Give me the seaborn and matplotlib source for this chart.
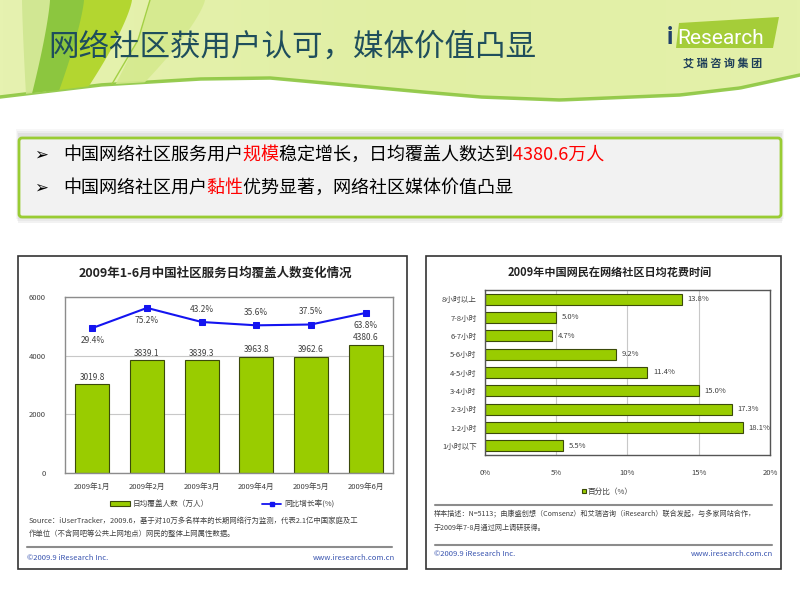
import numpy as np
import pandas as pd
import matplotlib
matplotlib.use('Agg')
import matplotlib.pyplot as plt
import seaborn as sns
from matplotlib.patches import Rectangle, Polygon, FancyBboxPatch
from matplotlib.colors import LinearSegmentedColormap
from matplotlib.transforms import Bbox, TransformedBbox

sns.set_theme(style='white')
plt.rcParams['font.family'] = ['Noto Sans CJK SC', 'DejaVu Sans']

# ---------------- data ----------------
months = ['2009年1月', '2009年2月', '2009年3月', '2009年4月', '2009年5月', '2009年6月']
users = [3019.8, 3839.1, 3839.3, 3963.8, 3962.6, 4380.6]
growth = [29.4, 75.2, 43.2, 35.6, 37.5, 63.8]
growth_label_below = [True, True, False, False, False, True]
left_yticks = [0, 2000, 4000, 6000]

time_cats = ['8小时以上', '7-8小时', '6-7小时', '5-6小时', '4-5小时',
             '3-4小时', '2-3小时', '1-2小时', '1小时以下']
time_pct = [13.8, 5.0, 4.7, 9.2, 11.4, 15.0, 17.3, 18.1, 5.5]
right_xticks = [0, 5, 10, 15, 20]

GREEN = '#99CC00'
EDGE = '#3B4A0A'
BLUE = '#1414F0'
TXT = '#404040'
TEAL = '#1F4E5C'

fig = plt.figure(figsize=(8, 6), dpi=100)
bg = fig.add_axes([0, 0, 1, 1], zorder=0)
bg.set_xlim(0, 800)
bg.set_ylim(600, 0)
bg.axis('off')

# ---------------- header ----------------
wx = np.linspace(0, 800, 300)
wy = np.interp(wx, [0, 100, 200, 270, 400, 480, 560, 680, 740, 800],
               [97, 85, 79, 78, 90, 97, 100, 95, 88, 75])
hdr = Polygon(np.vstack([np.column_stack([wx, wy]), [[800, 0], [0, 0]]]),
              closed=True, facecolor='none', edgecolor='none')
bg.add_patch(hdr)
grad = np.linspace(0, 1, 256).reshape(1, -1)
cm = LinearSegmentedColormap.from_list('h', ['#E6F2B0', '#E1EFA4', '#E4F1AA'])
im = bg.imshow(grad, extent=[0, 800, 110, 0], cmap=cm, aspect='auto', zorder=1)
im.set_clip_path(hdr)
bg.plot(wx, wy, color='#8CC63F', lw=2.5, alpha=0.9, zorder=2)


def swoosh(top0, top1, bot0, bot1, color, alpha=1.0):
    t = np.linspace(0, 1, 40)
    yb = np.interp((bot0 + bot1) / 2, wx, wy) + 2
    left = np.column_stack([top0 + (bot0 - top0) * t ** 1.3, yb * t])
    right = np.column_stack([top1 + (bot1 - top1) * t ** 1.3, yb * t])[::-1]
    p = Polygon(np.vstack([left, right]), closed=True,
                facecolor=color, edgecolor='none', alpha=alpha, zorder=2)
    bg.add_patch(p)
    p.set_clip_path(hdr)


swoosh(150, 205, 115, 142, '#D5EA8E', 0.9)
swoosh(22, 52, 26, 46, '#CFE690', 0.9)
swoosh(82, 132, 56, 86, '#B3D630', 1.0)
swoosh(50, 84, 32, 58, '#8CC63F', 1.0)
bg.plot([150, 138, 112], [0, 40, 84], color='#A3D044', lw=1.0, zorder=2)

bg.text(48, 47, '网络社区获用户认可，媒体价值凸显', fontsize=22, color=TEAL,
        va='center', ha='left', zorder=3)

# logo
bg.add_patch(Polygon([[679, 23], [779, 17], [773, 48], [676, 48]], closed=True,
                     facecolor='#A5CD39', edgecolor='none', zorder=3))
bg.text(667, 37, 'i', fontsize=17, color='#1F3F6A', fontweight='bold',
        family='Roboto', va='center', zorder=4)
bg.text(677, 38, 'Research', fontsize=15, color='white', family='Roboto',
        va='center', zorder=4)
bg.text(723, 63, '艾 瑞 咨 询 集 团', fontsize=8, color='#1F3F5A', fontweight='bold',
        ha='center', va='center', zorder=4)

# ---------------- bullet box ----------------
for i, a in enumerate([0.06, 0.08, 0.1]):
    bg.add_patch(Rectangle((16 + i, 129 + 2 * i), 768 - 2 * i, 90, facecolor='#808080',
                           alpha=a, edgecolor='none', zorder=2))
bg.add_patch(FancyBboxPatch((19, 138), 762, 79, boxstyle='round,pad=0,rounding_size=3',
                            facecolor='#F2F2F2', edgecolor='#99CC33', lw=2, zorder=3))

BSIZE = 13
EM = BSIZE * 100 / 72.0


def rich(x, y, parts):
    # draw the whole line once per colour, each clipped to its own segment
    full = ''.join(s for s, _ in parts)
    n = 0
    for k, (s, c) in enumerate(parts):
        x0 = x + n * EM - (50 if k == 0 else 0)
        n += len(s)
        x1 = x + n * EM if k < len(parts) - 1 else 800
        t = bg.text(x, y, full, color=c, fontsize=BSIZE, va='center', ha='left', zorder=4)
        t.set_clip_path(None)
        t.set_clip_on(True)
        t.set_clip_box(TransformedBbox(Bbox([[x0, y - 20], [x1, y + 20]]), bg.transData))


for yy in (155, 188):
    bg.text(34, yy, '➢', fontsize=12, family='DejaVu Sans', color='black',
            va='center', ha='left', zorder=4)
rich(63, 155, [('中国网络社区服务用户', 'black'), ('规模', '#FF0000'),
               ('稳定增长，日均覆盖人数达到', 'black'), ('4380.6万人', '#FF0000')])
rich(63, 188, [('中国网络社区用户', 'black'), ('黏性', '#FF0000'),
               ('优势显著，网络社区媒体价值凸显', 'black')])

# ---------------- chart boxes ----------------
bg.add_patch(Rectangle((18, 256), 389, 313, facecolor='white', edgecolor='#333333', lw=1.2, zorder=2))
bg.add_patch(Rectangle((426, 256), 355, 313, facecolor='white', edgecolor='#333333', lw=1.2, zorder=2))

# ---------------- left chart ----------------
bg.text(215, 273, '2009年1-6月中国社区服务日均覆盖人数变化情况', fontsize=9,
        fontweight='bold', color='#222222', ha='center', va='center', zorder=4)

axL = fig.add_axes([65 / 800, 1 - 473 / 600, 328 / 800, 176 / 600], zorder=3)
df = pd.DataFrame({'month': months, 'users': users})
sns.barplot(data=df, x='month', y='users', ax=axL, color=GREEN, edgecolor=EDGE,
            linewidth=0.8, width=0.62, saturation=1)
axL.set_xlim(-0.5, 5.5)
axL.set_ylim(0, 6000)
axL.set_yticks(left_yticks)
axL.set_yticklabels([str(v) for v in left_yticks])
axL.yaxis.grid(True, color='#C8C8C8', lw=0.8)
axL.set_axisbelow(True)
axL.set_xlabel('')
axL.set_ylabel('')
for s in axL.spines.values():
    s.set_color('#8C8C8C')
    s.set_linewidth(1.0)
axL.tick_params(axis='y', length=0, pad=14, labelsize=5.5, labelcolor=TXT)
axL.tick_params(axis='x', length=0, pad=7, labelsize=5.5, labelcolor=TXT)
for i, v in enumerate(users):
    axL.annotate(f'{v:.1f}', (i, v), xytext=(0, 2), textcoords='offset points',
                 ha='center', va='bottom', fontsize=6, color=TXT)

axLine = fig.add_axes([65 / 800, 1 - 473 / 600, 328 / 800, 176 / 600], zorder=4)
axLine.patch.set_alpha(0)
gdf = pd.DataFrame({'x': np.arange(len(growth)), 'g': growth})
sns.lineplot(data=gdf, x='x', y='g', ax=axLine, color=BLUE, marker='s',
             markersize=5, markeredgecolor=BLUE, linewidth=1.5, sort=False)
axLine.set_xlim(-0.5, 5.5)
axLine.set_ylim(-300, 100)
axLine.axis('off')
for i, (v, below) in enumerate(zip(growth, growth_label_below)):
    axLine.annotate(f'{v:.1f}%', (i, v), xytext=(0, -6 if below else 6),
                    textcoords='offset points', ha='center',
                    va='top' if below else 'bottom', fontsize=6, color=TXT)

# legend left
bg.add_patch(Rectangle((110, 501), 20, 4.5, facecolor=GREEN, edgecolor=EDGE, lw=0.8, zorder=4))
bg.text(133, 503.5, '日均覆盖人数（万人）', fontsize=5.5, color=TXT, va='center', zorder=4)
bg.plot([262, 281], [503.5, 503.5], color=BLUE, lw=1.3, zorder=4)
bg.plot([271.5], [503.5], marker='s', color=BLUE, markersize=3.5, zorder=5)
bg.text(284, 503.5, '同比增长率(%)', fontsize=5.5, color=TXT, va='center', zorder=4)

bg.text(29, 521, 'Source：iUserTracker，2009.6，基于对10万多名样本的长期网络行为监测，代表2.1亿中国家庭及工',
        fontsize=5.3, color=TXT, va='center', zorder=4)
bg.text(29, 534, '作单位（不含网吧等公共上网地点）网民的整体上网属性数据。',
        fontsize=5.3, color=TXT, va='center', zorder=4)
bg.plot([27, 392], [547, 547], color='#8C8C8C', lw=1.5, zorder=4)
bg.text(27, 558, '©2009.9 iResearch Inc.', fontsize=5.5, color='#3A55B0', va='center', zorder=4)
bg.text(395, 558, 'www.iresearch.com.cn', fontsize=5.5, color='#3A55B0', va='center',
        ha='right', zorder=4)

# ---------------- right chart ----------------
bg.text(610, 272, '2009年中国网民在网络社区日均花费时间', fontsize=8,
        fontweight='bold', color='#222222', ha='center', va='center', zorder=4)

axB = fig.add_axes([485 / 800, 1 - 455 / 600, 285 / 800, 165 / 600], zorder=3)
tdf = pd.DataFrame({'cat': time_cats, 'pct': time_pct})
sns.barplot(data=tdf, x='pct', y='cat', orient='h', ax=axB, color=GREEN,
            edgecolor=EDGE, linewidth=0.8, width=0.6, saturation=1)
axB.set_xlim(0, 20)
axB.set_ylim(len(time_cats) - 0.5, -0.5)
axB.set_xticks(right_xticks)
axB.set_xticklabels([f'{v}%' for v in right_xticks])
axB.xaxis.grid(True, color='#C8C8C8', lw=0.8)
axB.set_axisbelow(True)
axB.set_xlabel('')
axB.set_ylabel('')
for s in axB.spines.values():
    s.set_color('#555555')
    s.set_linewidth(1.0)
axB.tick_params(axis='y', length=0, pad=6, labelsize=5.5, labelcolor=TXT)
axB.tick_params(axis='x', length=0, pad=10, labelsize=5.5, labelcolor=TXT)
for i, v in enumerate(time_pct):
    axB.annotate(f'{v:.1f}%', (v, i), xytext=(4, 0), textcoords='offset points',
                 ha='left', va='center', fontsize=5.5, color=TXT)

bg.add_patch(Rectangle((582, 489), 4, 4, facecolor=GREEN, edgecolor=EDGE, lw=0.8, zorder=4))
bg.text(588, 491.5, '百分比（%）', fontsize=5.5, color=TXT, va='center', zorder=4)
bg.plot([435, 772], [505, 505], color='#8C8C8C', lw=1.5, zorder=4)
bg.text(434, 514, '样本描述：N=5113；由康盛创想（Comsenz）和艾瑞咨询（iResearch）联合发起，与多家网站合作，',
        fontsize=5.1, color=TXT, va='center', zorder=4)
bg.text(434, 528, '于2009年7-8月通过网上调研获得。', fontsize=5.1, color=TXT, va='center', zorder=4)
bg.plot([435, 772], [545, 545], color='#8C8C8C', lw=1.5, zorder=4)
bg.text(434, 554, '©2009.9 iResearch Inc.', fontsize=5.5, color='#3A55B0', va='center', zorder=4)
bg.text(773, 554, 'www.iresearch.com.cn', fontsize=5.5, color='#3A55B0', va='center',
        ha='right', zorder=4)

fig.savefig('out.png', dpi=100)
